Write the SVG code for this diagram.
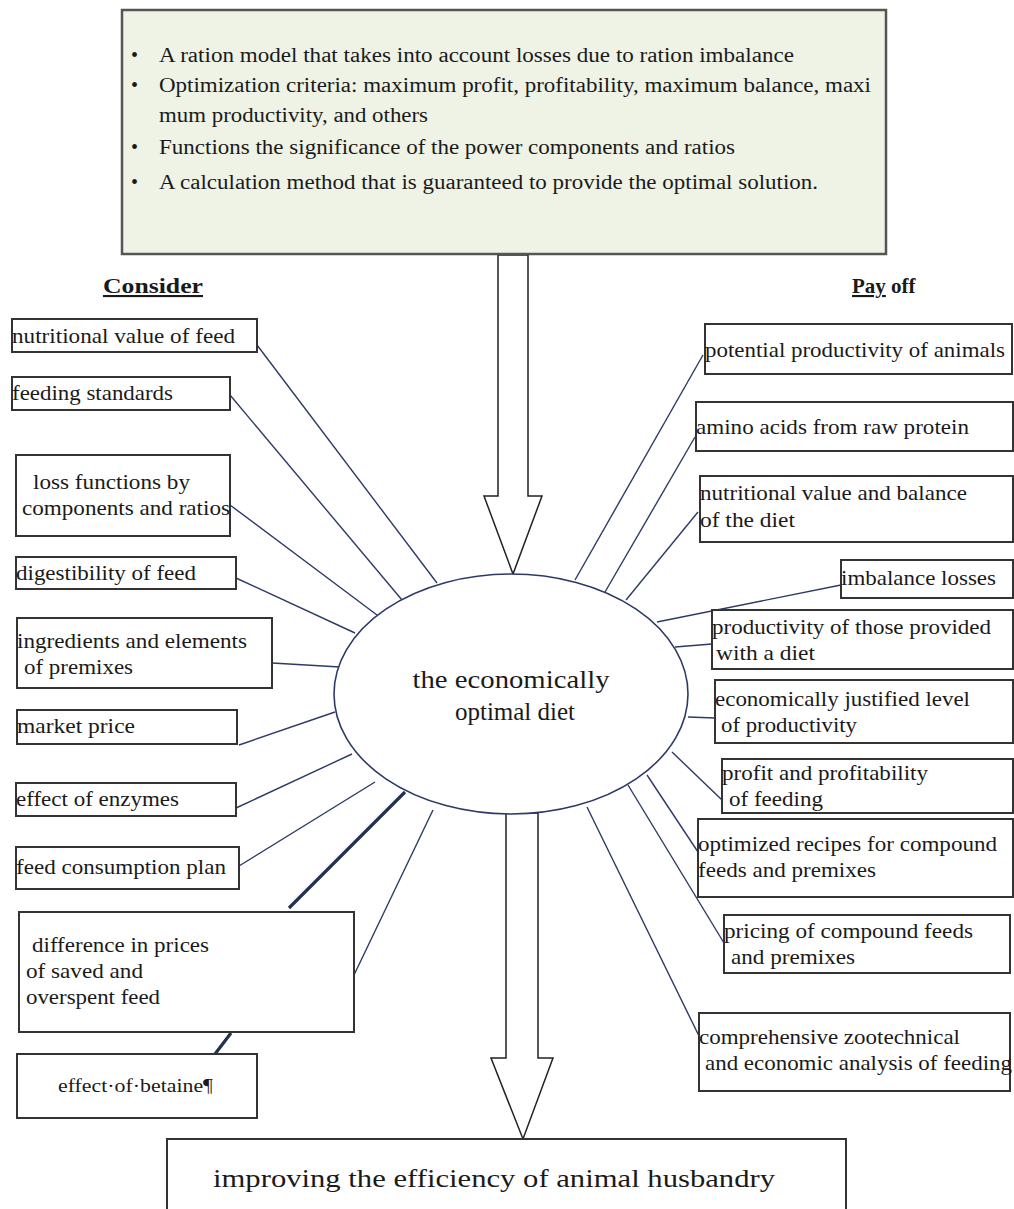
<svg xmlns="http://www.w3.org/2000/svg" width="1014" height="1209" viewBox="0 0 1014 1209">
<style>
text{font-family:"Liberation Serif","Times New Roman",serif;fill:#1a1a1a}
.t{font-size:22px}
.top{font-size:20px}
.box{fill:#fff;stroke:#333;stroke-width:2}
.con{stroke:#2d3a66;stroke-width:1.4;fill:none}
.thick{stroke:#22314f;stroke-width:3.2;fill:none}
.arrow{fill:#fff;stroke:#222;stroke-width:1.5}
.hd{font-size:21px;font-weight:bold}
</style>
<rect width="1014" height="1209" fill="#fff"/>

<g id="connectors">
<line class="con" x1="257" y1="345" x2="437" y2="583"/>
<line class="con" x1="230" y1="395" x2="402" y2="600"/>
<line class="con" x1="230" y1="505" x2="377" y2="615"/>
<line class="con" x1="236" y1="578" x2="355" y2="633"/>
<line class="con" x1="272" y1="663" x2="340" y2="667"/>
<line class="con" x1="239" y1="745" x2="335" y2="712"/>
<line class="con" x1="236" y1="808" x2="352" y2="754"/>
<line class="con" x1="239" y1="866" x2="375" y2="782"/>
<line class="thick" x1="289" y1="908" x2="405" y2="792"/>
<line class="con" x1="354" y1="975" x2="433" y2="810"/>
<line class="thick" x1="215" y1="1054" x2="231" y2="1033"/>
<line class="con" x1="703" y1="355" x2="575" y2="580"/>
<line class="con" x1="695" y1="437" x2="605" y2="592"/>
<line class="con" x1="698" y1="512" x2="626" y2="600"/>
<line class="con" x1="841" y1="585" x2="657" y2="622"/>
<line class="con" x1="712" y1="644" x2="675" y2="647"/>
<line class="con" x1="715" y1="718" x2="688" y2="717"/>
<line class="con" x1="722" y1="800" x2="672" y2="752"/>
<line class="con" x1="698" y1="852" x2="647" y2="775"/>
<line class="con" x1="724" y1="943" x2="628" y2="785"/>
<line class="con" x1="699" y1="1036" x2="587" y2="807"/>
<polygon class="arrow" points="498,255 528,255 528,496 542,496 513,574 484,496 498,496"/>
<polygon class="arrow" points="506,813 538,813 538,1058 553,1058 523,1139 491,1058 506,1058"/>
</g>

<g id="top-box">
<rect x="122" y="10" width="764" height="244" fill="#eef3e6" stroke="#555" stroke-width="2.5"/>
<text class="top" x="131" y="62">•</text>
<text class="top" x="159" y="62" textLength="635" lengthAdjust="spacingAndGlyphs">A ration model that takes into account losses due to ration imbalance</text>
<text class="top" x="131" y="92">•</text>
<text class="top" x="159" y="92" textLength="712" lengthAdjust="spacingAndGlyphs">Optimization criteria: maximum profit, profitability, maximum balance, maxi</text>
<text class="top" x="159" y="122" textLength="269" lengthAdjust="spacingAndGlyphs">mum productivity, and others</text>
<text class="top" x="131" y="154">•</text>
<text class="top" x="159" y="154" textLength="576" lengthAdjust="spacingAndGlyphs">Functions the significance of the power components and ratios</text>
<text class="top" x="131" y="189">•</text>
<text class="top" x="159" y="189" textLength="659" lengthAdjust="spacingAndGlyphs">A calculation method that is guaranteed to provide the optimal solution.</text>
</g>

<g id="consider-label">
<text class="hd" x="103" y="293" text-decoration="underline" textLength="100" lengthAdjust="spacingAndGlyphs">Consider </text>
</g>
<g id="payoff-label">
<text class="hd" x="852" y="293"><tspan text-decoration="underline">Pay</tspan><tspan> off</tspan></text>
</g>

<g id="center">
<ellipse cx="511" cy="694" rx="177" ry="120" fill="#fff" stroke="#2d3a66" stroke-width="1.6"/>
<text x="511" y="688" font-size="25" text-anchor="middle" fill="#333" textLength="197" lengthAdjust="spacingAndGlyphs">the economically</text>
<text x="515" y="720" font-size="25" text-anchor="middle" fill="#333">optimal diet</text>
</g>

<g id="l1"><rect class="box" x="12" y="319" width="245" height="33"/>
<text class="t" x="12" y="343" textLength="223" lengthAdjust="spacingAndGlyphs">nutritional value of feed</text></g>
<g id="l2"><rect class="box" x="12" y="377" width="218" height="33"/>
<text class="t" x="12" y="400" textLength="161" lengthAdjust="spacingAndGlyphs">feeding standards</text></g>
<g id="l3"><rect class="box" x="16" y="455" width="214" height="81"/>
<text class="t" x="33" y="489" textLength="157" lengthAdjust="spacingAndGlyphs">loss functions by</text>
<text class="t" x="22" y="515" textLength="208" lengthAdjust="spacingAndGlyphs">components and ratios</text></g>
<g id="l4"><rect class="box" x="16" y="557" width="220" height="32"/>
<text class="t" x="16" y="580" textLength="180" lengthAdjust="spacingAndGlyphs">digestibility of feed</text></g>
<g id="l5"><rect class="box" x="17" y="618" width="255" height="70"/>
<text class="t" x="17" y="648" textLength="230" lengthAdjust="spacingAndGlyphs">ingredients and elements</text>
<text class="t" x="24" y="674" textLength="109" lengthAdjust="spacingAndGlyphs">of premixes</text></g>
<g id="l6"><rect class="box" x="17" y="710" width="220" height="34"/>
<text class="t" x="17" y="733" textLength="118" lengthAdjust="spacingAndGlyphs">market price</text></g>
<g id="l7"><rect class="box" x="16" y="783" width="220" height="33"/>
<text class="t" x="16" y="806" textLength="163" lengthAdjust="spacingAndGlyphs">effect of enzymes</text></g>
<g id="l8"><rect class="box" x="16" y="847" width="223" height="42"/>
<text class="t" x="16" y="874" textLength="210" lengthAdjust="spacingAndGlyphs">feed consumption plan</text></g>
<g id="l9"><rect class="box" x="19" y="912" width="335" height="120"/>
<text class="t" x="32" y="952" textLength="177" lengthAdjust="spacingAndGlyphs">difference in prices</text>
<text class="t" x="26" y="978" textLength="117" lengthAdjust="spacingAndGlyphs">of saved and</text>
<text class="t" x="26" y="1004" textLength="134" lengthAdjust="spacingAndGlyphs">overspent feed</text></g>
<g id="l10"><rect class="box" x="17" y="1054" width="240" height="64"/>
<text x="58" y="1092" font-size="18" textLength="155" lengthAdjust="spacingAndGlyphs">effect·of·betaine¶</text></g>

<g id="r1"><rect class="box" x="705" y="324" width="307" height="50"/>
<text class="t" x="705" y="357" textLength="300" lengthAdjust="spacingAndGlyphs">potential productivity of animals</text></g>
<g id="r2"><rect class="box" x="696" y="402" width="317" height="49"/>
<text class="t" x="696" y="434" textLength="273" lengthAdjust="spacingAndGlyphs">amino acids from raw protein</text></g>
<g id="r3"><rect class="box" x="700" y="476" width="313" height="66"/>
<text class="t" x="700" y="500" textLength="267" lengthAdjust="spacingAndGlyphs">nutritional value and balance</text>
<text class="t" x="700" y="527" textLength="95" lengthAdjust="spacingAndGlyphs">of the diet</text></g>
<g id="r4"><rect class="box" x="841" y="560" width="172" height="38"/>
<text class="t" x="841" y="585" textLength="155" lengthAdjust="spacingAndGlyphs">imbalance losses</text></g>
<g id="r5"><rect class="box" x="712" y="610" width="301" height="59"/>
<text class="t" x="712" y="634" textLength="279" lengthAdjust="spacingAndGlyphs">productivity of those provided</text>
<text class="t" x="716" y="660" textLength="99" lengthAdjust="spacingAndGlyphs">with a diet</text></g>
<g id="r6"><rect class="box" x="715" y="680" width="298" height="63"/>
<text class="t" x="715" y="706" textLength="255" lengthAdjust="spacingAndGlyphs">economically justified level</text>
<text class="t" x="721" y="732" textLength="136" lengthAdjust="spacingAndGlyphs">of productivity</text></g>
<g id="r7"><rect class="box" x="722" y="759" width="291" height="54"/>
<text class="t" x="722" y="780" textLength="206" lengthAdjust="spacingAndGlyphs">profit and profitability</text>
<text class="t" x="729" y="806" textLength="94" lengthAdjust="spacingAndGlyphs">of feeding</text></g>
<g id="r8"><rect class="box" x="698" y="819" width="315" height="78"/>
<text class="t" x="698" y="851" textLength="299" lengthAdjust="spacingAndGlyphs">optimized recipes for compound</text>
<text class="t" x="698" y="877" textLength="178" lengthAdjust="spacingAndGlyphs">feeds and premixes</text></g>
<g id="r9"><rect class="box" x="724" y="915" width="286" height="58"/>
<text class="t" x="724" y="938" textLength="249" lengthAdjust="spacingAndGlyphs">pricing of compound feeds</text>
<text class="t" x="731" y="964" textLength="124" lengthAdjust="spacingAndGlyphs">and premixes</text></g>
<g id="r10"><rect class="box" x="699" y="1013" width="311" height="78"/>
<text class="t" x="699" y="1044" textLength="261" lengthAdjust="spacingAndGlyphs">comprehensive zootechnical</text>
<text class="t" x="705" y="1070" textLength="307" lengthAdjust="spacingAndGlyphs">and economic analysis of feeding</text></g>

<g id="bottom-box"><rect class="box" x="167" y="1139" width="679" height="90"/>
<text x="213" y="1187" font-size="26" textLength="562" lengthAdjust="spacingAndGlyphs">improving the efficiency of animal husbandry</text></g>
</svg>
